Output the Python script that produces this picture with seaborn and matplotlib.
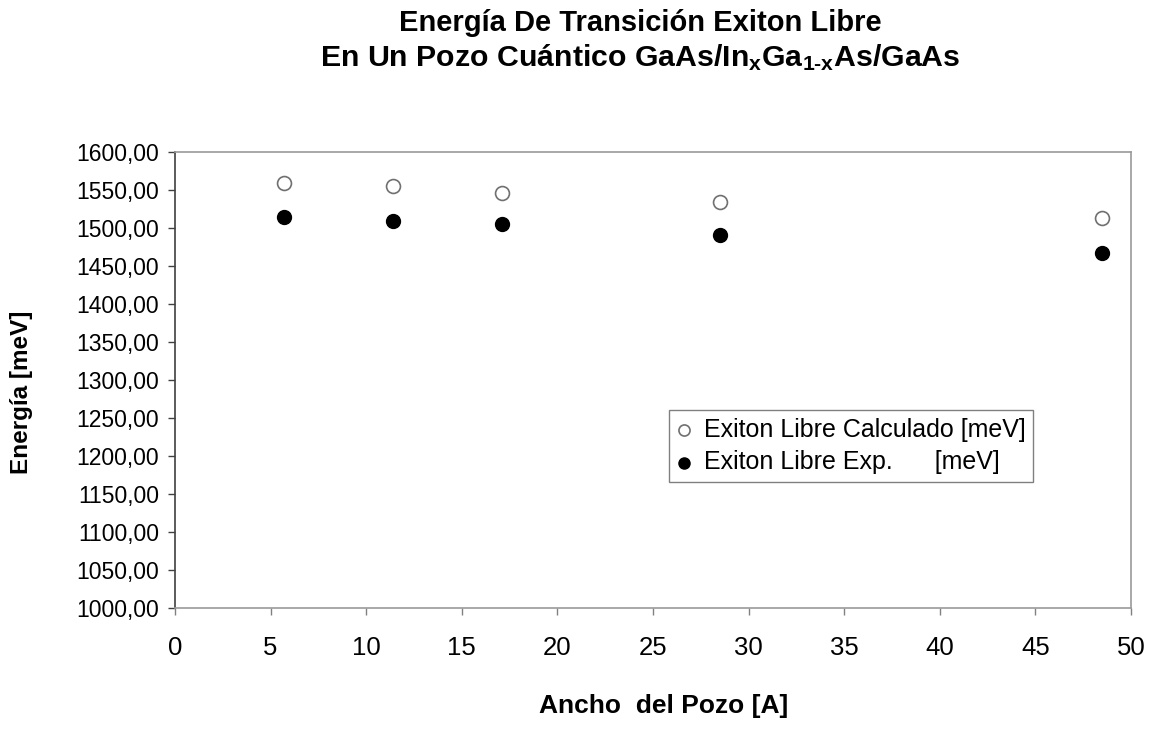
import matplotlib
matplotlib.use("Agg")
import matplotlib.pyplot as plt
import seaborn as sns
import pandas as pd

# Well widths [A] and free-exciton transition energies [meV]
ancho = [5.70, 11.42, 17.12, 28.50, 48.47]
exiton_calculado = [1559.6, 1555.3, 1545.7, 1534.6, 1512.8]
exiton_exp = [1514.1, 1509.6, 1505.3, 1490.8, 1466.7]

serie_calc = "Exiton Libre Calculado [meV]"
serie_exp = "Exiton Libre Exp.      [meV]"

y_ticks = list(range(1000, 1601, 50))
x_ticks = list(range(0, 51, 5))

sns.set_style("white")
plt.rcParams["font.family"] = ["Liberation Sans", "DejaVu Sans"]
plt.rcParams["mathtext.fontset"] = "custom"
plt.rcParams["mathtext.rm"] = "Liberation Sans"
plt.rcParams["mathtext.bf"] = "Liberation Sans:bold"
plt.rcParams["mathtext.it"] = "Liberation Sans:italic"
plt.rcParams["text.color"] = "black"
plt.rcParams["xtick.color"] = "black"
plt.rcParams["ytick.color"] = "black"

df = pd.DataFrame({
    "ancho": ancho * 2,
    "energia": exiton_calculado + exiton_exp,
    "serie": [serie_calc] * len(ancho) + [serie_exp] * len(ancho),
})

fig = plt.figure(figsize=(11.53, 7.49), dpi=100)
ax = fig.add_axes([175 / 1153, 1 - 608 / 749, (1131 - 175) / 1153, (608 - 152) / 749])

sns.scatterplot(data=df[df.serie == serie_calc], x="ancho", y="energia", ax=ax,
                marker="o", s=100, facecolor="white", edgecolor="#707070",
                linewidth=1.2, label=serie_calc, zorder=3)
sns.scatterplot(data=df[df.serie == serie_exp], x="ancho", y="energia", ax=ax,
                marker="o", s=100, facecolor="black", edgecolor="black",
                linewidth=1.0, label=serie_exp, zorder=3)

ax.set_xlim(0, 50)
ax.set_ylim(1000, 1600)
ax.set_xticks(x_ticks)
ax.set_yticks(y_ticks)
ax.set_xticklabels([str(v) for v in x_ticks], fontsize=18.5)
ax.set_yticklabels([f"{v:.2f}".replace(".", ",") for v in y_ticks], fontsize=16.5)
ax.tick_params(axis="x", bottom=True, direction="out", length=5, width=1,
               color="#808080", labelcolor="black", pad=15)
ax.tick_params(axis="y", left=True, direction="out", length=5, width=1,
               color="#404040", labelcolor="black", pad=6.5)
ax.set_xlabel("")
ax.set_ylabel("")

for side in ["top", "right", "bottom"]:
    ax.spines[side].set_color("#9a9a9a")
    ax.spines[side].set_linewidth(1.2)
ax.spines["left"].set_color("#404040")
ax.spines["left"].set_linewidth(1.2)
ax.grid(False)

leg = ax.legend(loc="upper left", bbox_to_anchor=(669 / 1153, 1 - 410 / 749),
                bbox_transform=fig.transFigure, frameon=True, fancybox=False,
                fontsize=18, handlelength=0.6, handletextpad=0.5,
                borderpad=0.3, labelspacing=0.35, borderaxespad=0, markerscale=0.8)
leg.get_frame().set_edgecolor("#606060")
leg.get_frame().set_linewidth(1.0)

fig.text(640 / 1153, 1 - 23 / 749, "Energía De Transición Exiton Libre",
         ha="center", va="center", fontsize=21, fontweight="bold")
fig.text(640 / 1153, 1 - 58 / 749,
         "En Un Pozo Cuántico GaAs/In$_\\mathbf{x}$Ga$_\\mathbf{1\u2010x}$As/GaAs",
         ha="center", va="center", fontsize=21.8, fontweight="bold")
fig.text(664 / 1153, 1 - 706 / 749, "Ancho  del Pozo [A]",
         ha="center", va="center", fontsize=19, fontweight="bold")
fig.text(22 / 1153, 1 - 392 / 749, "Energía [meV]", rotation=90,
         ha="center", va="center", fontsize=17.5, fontweight="bold")

fig.savefig("out.png", dpi=100)
